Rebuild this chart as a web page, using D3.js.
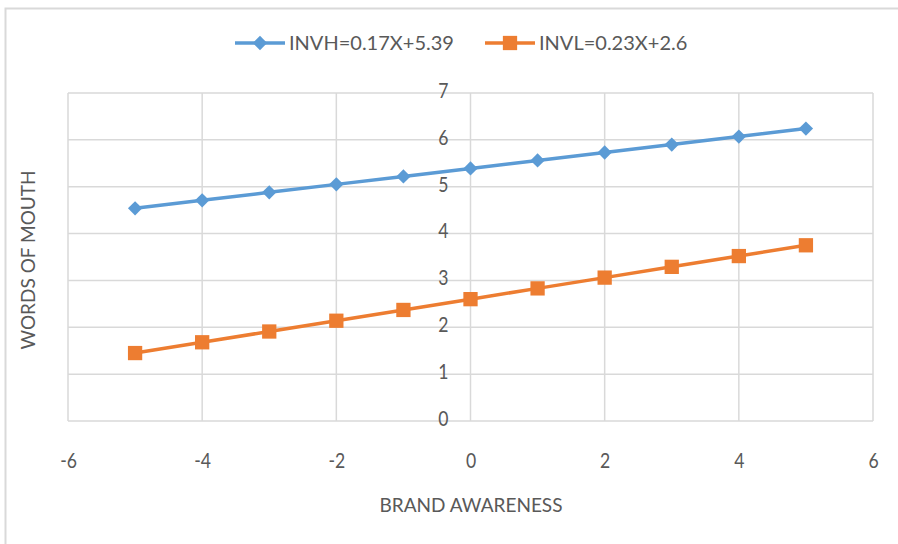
<!DOCTYPE html>
<html>
<head>
<meta charset="utf-8">
<script src="https://cdn.jsdelivr.net/npm/d3@7"></script>
<style>
  body { margin: 0; background: #fff; }
  text { font-family: Lato, "Liberation Sans", sans-serif; fill: #595959; }
</style>
</head>
<body>
<div class="chart-area"></div>
<script>
var xValues = [-5, -4, -3, -2, -1, 0, 1, 2, 3, 4, 5],
    invhValues = [4.54, 4.71, 4.88, 5.05, 5.22, 5.39, 5.56, 5.73, 5.90, 6.07, 6.24],
    invlValues = [1.45, 1.68, 1.91, 2.14, 2.37, 2.60, 2.83, 3.06, 3.29, 3.52, 3.75],
    seriesNames = ["INVH=0.17X+5.39", "INVL=0.23X+2.6"],
    xTicks = [-6, -4, -2, 0, 2, 4, 6],
    yTicks = [0, 1, 2, 3, 4, 5, 6, 7];

var width = 898,
    height = 544,
    blue = "#5B9BD5",
    orange = "#ED7D31",
    grid = "#D9D9D9";

var svg = d3.select(".chart-area")
            .append("svg")
            .attr("width", width)
            .attr("height", height);

// chart frame
svg.append("rect")
   .attr("x", 5.5).attr("y", 8.5)
   .attr("width", 910).attr("height", 560)
   .attr("fill", "none")
   .attr("stroke", grid)
   .attr("stroke-width", 2);

var x = d3.scaleLinear().domain([-6, 6]).range([68, 873]),
    y = d3.scaleLinear().domain([0, 7]).range([421, 93]);

// gridlines
svg.selectAll(".hgrid")
   .data(yTicks)
   .enter()
   .append("line")
   .attr("x1", x(-6)).attr("x2", x(6))
   .attr("y1", function(d) { return y(d) }).attr("y2", function(d) { return y(d) })
   .attr("stroke", grid).attr("stroke-width", 1.5);

svg.selectAll(".vgrid")
   .data(xTicks)
   .enter()
   .append("line")
   .attr("x1", function(d) { return x(d) }).attr("x2", function(d) { return x(d) })
   .attr("y1", y(0)).attr("y2", y(7))
   .attr("stroke", grid).attr("stroke-width", 1.5);

var plain = function(d) { return String(d) };

// x tick labels
var xAxis = svg.append("g")
   .attr("transform", "translate(0," + 460 + ")")
   .call(d3.axisBottom(x).tickValues(xTicks).tickFormat(plain).tickSize(0).tickPadding(0));
xAxis.select(".domain").remove();
xAxis.selectAll("text")
   .attr("y", 0)
   .attr("dy", "0.36em")
   .attr("transform", "scale(0.8,1)")
   .attr("font-size", 22)
   .style("font-family", "Lato, sans-serif")
   .attr("fill", "#595959");

// y tick labels sit next to the axis at x = 0
var yAxis = svg.append("g")
   .attr("transform", "translate(" + (x(0) - 22) + ",0)")
   .call(d3.axisLeft(y).tickValues(yTicks).tickFormat(plain).tickSize(0).tickPadding(0));
yAxis.select(".domain").remove();
yAxis.selectAll("text")
   .attr("dy", "0.2em")
   .attr("transform", "scale(0.8,1)")
   .attr("font-size", 22)
   .style("font-family", "Lato, sans-serif")
   .attr("fill", "#595959");

// lines
var line = d3.line()
   .x(function(d, i) { return x(xValues[i]) })
   .y(function(d) { return y(d) });

svg.append("path").datum(invhValues)
   .attr("d", line).attr("fill", "none")
   .attr("stroke", blue).attr("stroke-width", 3.5);
svg.append("path").datum(invlValues)
   .attr("d", line).attr("fill", "none")
   .attr("stroke", orange).attr("stroke-width", 3.5);

// markers
var diamond = d3.symbol().type(d3.symbolDiamond2).size(130),
    square = d3.symbol().type(d3.symbolSquare2).size(260);

svg.selectAll(".invh")
   .data(invhValues)
   .enter()
   .append("path")
   .attr("d", diamond)
   .attr("transform", function(d, i) { return "translate(" + x(xValues[i]) + "," + y(d) + ")" })
   .attr("fill", blue);

svg.selectAll(".invl")
   .data(invlValues)
   .enter()
   .append("path")
   .attr("d", square)
   .attr("transform", function(d, i) { return "translate(" + x(xValues[i]) + "," + y(d) + ")" })
   .attr("fill", orange);

// legend
var legend = [
  { name: seriesNames[0], color: blue, sym: diamond, x0: 235 },
  { name: seriesNames[1], color: orange, sym: square, x0: 485 }
];
legend.forEach(function(l) {
  svg.append("line")
     .attr("x1", l.x0).attr("x2", l.x0 + 50)
     .attr("y1", 43).attr("y2", 43)
     .attr("stroke", l.color).attr("stroke-width", 3.5);
  svg.append("path")
     .attr("d", l.sym)
     .attr("transform", "translate(" + (l.x0 + 25) + ",43)")
     .attr("fill", l.color);
  svg.append("text")
     .attr("x", l.x0 + 54).attr("y", 43)
     .attr("dy", "0.36em")
     .attr("font-size", 20)
     .text(l.name);
});

// axis titles
svg.append("text")
   .attr("x", 471).attr("y", 505)
   .attr("dy", "0.36em")
   .attr("text-anchor", "middle")
   .attr("font-size", 19)
   .text("BRAND AWARENESS");

svg.append("text")
   .attr("transform", "translate(28,260) rotate(-90)")
   .attr("dy", "0.36em")
   .attr("text-anchor", "middle")
   .attr("font-size", 19)
   .text("WORDS OF MOUTH");
</script>
</body>
</html>
